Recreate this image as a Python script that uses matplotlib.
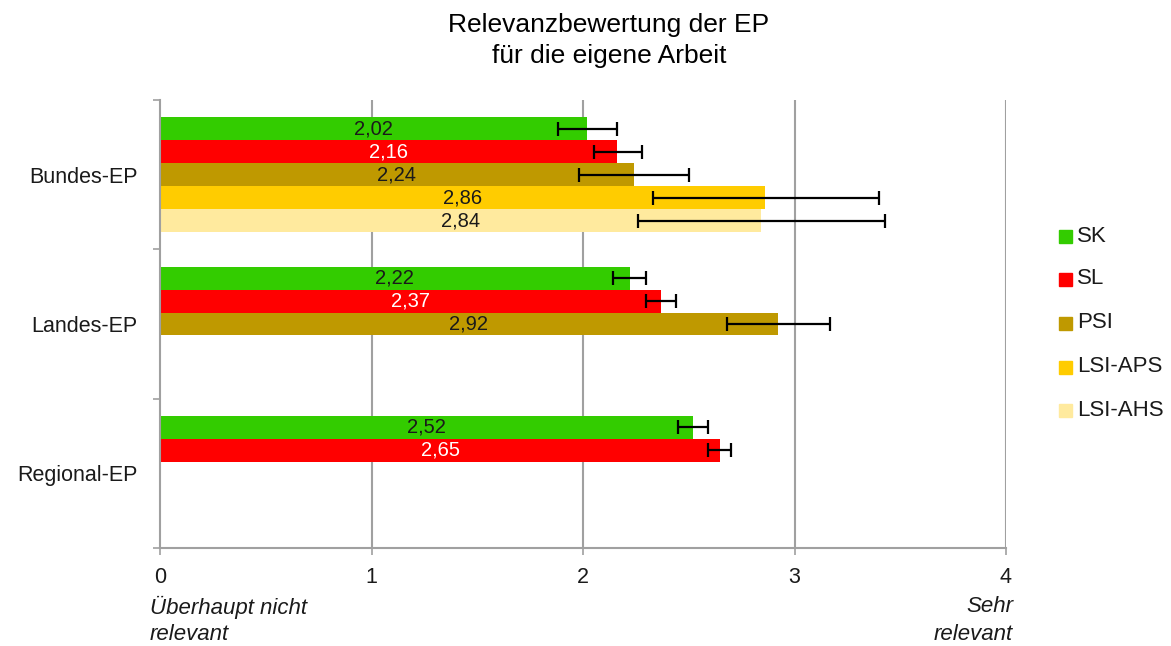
import matplotlib
matplotlib.use("Agg")
import matplotlib.pyplot as plt
import numpy as np

categories = ["Bundes-EP", "Landes-EP", "Regional-EP"]
series = ["SK", "SL", "PSI", "LSI-APS", "LSI-AHS"]
colors = ["#33CC00", "#FF0000", "#BF9900", "#FFCC00", "#FFEA9E"]
label_colors = ["#1a1a1a", "#ffffff", "#1a1a1a", "#1a1a1a", "#1a1a1a"]

# values per series (None = no bar)
values = {
    "SK":      [2.02, 2.22, 2.52],
    "SL":      [2.16, 2.37, 2.65],
    "PSI":     [2.24, 2.92, None],
    "LSI-APS": [2.86, None, None],
    "LSI-AHS": [2.84, None, None],
}
err_low = {
    "SK":      [1.88, 2.14, 2.45],
    "SL":      [2.05, 2.30, 2.59],
    "PSI":     [1.98, 2.68, None],
    "LSI-APS": [2.33, None, None],
    "LSI-AHS": [2.26, None, None],
}
err_high = {
    "SK":      [2.16, 2.30, 2.59],
    "SL":      [2.28, 2.44, 2.70],
    "PSI":     [2.50, 3.17, None],
    "LSI-APS": [3.40, None, None],
    "LSI-AHS": [3.43, None, None],
}
xticks = [0, 1, 2, 3, 4]
title_lines = ["Relevanzbewertung der EP", "für die eigene Arbeit"]

plt.rcParams['font.family'] = ['Liberation Sans', 'DejaVu Sans']

W, H = 1171, 646
fig = plt.figure(figsize=(W/100, H/100), dpi=100)
ax = fig.add_axes([160/W, 1-548/H, (1006-160)/W, (548-100)/H])

n = len(series)
h = 0.154
off = (1 - n*h)/2
grid_c = "#A0A0A0"
txt_c = "#1a1a1a"

for j, s in enumerate(series):
    for i, v in enumerate(values[s]):
        if v is None:
            continue
        y = i + off + h*j + h/2
        ax.barh(y, v, height=h, color=colors[j], zorder=2, linewidth=0)
        lo, hi = err_low[s][i], err_high[s][i]
        ax.errorbar(v, y, xerr=[[v-lo], [hi-v]], fmt='none', ecolor='black',
                    elinewidth=1.6, capsize=5, capthick=1.6, zorder=3)
        ax.text(v/2, y, f"{v:.2f}".replace('.', ','), ha='center', va='center',
                fontsize=14.5, color=label_colors[j], zorder=4)

ax.set_xlim(0, 4)
ax.set_ylim(3, 0)
ax.set_xticks(xticks)
ax.set_xticklabels([str(t) for t in xticks], fontsize=15.5, color=txt_c)
ax.tick_params(axis='x', length=5, width=1.2, color=grid_c, pad=9)
ax.set_yticks([0, 1, 2, 3])
ax.set_yticklabels([])
ax.tick_params(axis='y', which='major', length=5, width=1.2, color=grid_c)
ax.set_yticks([0.5, 1.5, 2.5], minor=True)
ax.set_yticklabels(categories, minor=True, fontsize=15.5, color=txt_c)
ax.tick_params(axis='y', which='minor', length=0, pad=16)

for x in [1, 2, 3, 4]:
    ax.axvline(x, color=grid_c, linewidth=1.5, zorder=1)

for sp in ['top', 'right']:
    ax.spines[sp].set_visible(False)
for sp in ['left', 'bottom']:
    ax.spines[sp].set_color(grid_c)
    ax.spines[sp].set_linewidth(1.5)

fig.text(609/W, 1-32/H, title_lines[0], ha='center', va='baseline',
         fontsize=19, color='black')
fig.text(609/W, 1-63/H, title_lines[1], ha='center', va='baseline',
         fontsize=19, color='black')

fig.text(150/W, 1-607/H, "Überhaupt nicht", ha='left', va='center',
         fontsize=16, style='italic', color=txt_c)
fig.text(150/W, 1-634/H, "relevant", ha='left', va='center',
         fontsize=16, style='italic', color=txt_c)
fig.text(1013/W, 1-607/H, "Sehr", ha='right', va='center',
         fontsize=16, style='italic', color=txt_c)
fig.text(1013/W, 1-634/H, "relevant", ha='right', va='center',
         fontsize=16, style='italic', color=txt_c)

# legend
leg_y = [236, 279, 323, 367, 410]
for j, s in enumerate(series):
    yy = 1 - leg_y[j]/H
    fig.patches.append(plt.Rectangle((1059/W, yy - 6.5/H), 13/W, 13/H,
                                     color=colors[j], transform=fig.transFigure, figure=fig))
    fig.text(1077/W, yy, s, ha='left', va='center', fontsize=16, color=txt_c)

fig.savefig("out.png", dpi=100)
